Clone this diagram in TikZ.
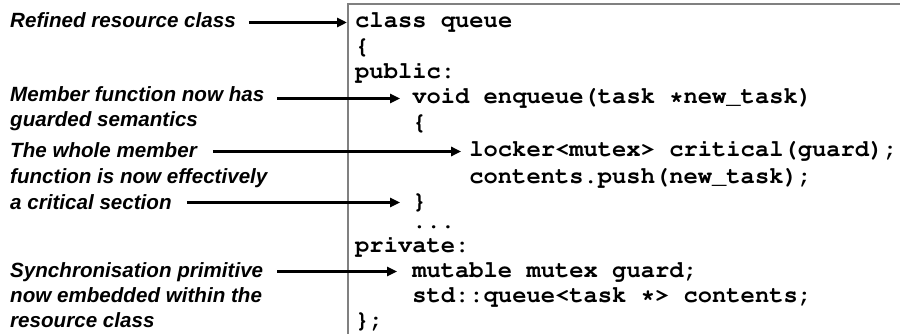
\documentclass[tikz,border=0pt]{standalone}
\usepackage[T1]{fontenc}
\usepackage{fontspec}
\setmainfont{Liberation Sans}
\usetikzlibrary{arrows.meta}

% bold Courier for the listing
\newcommand\listingfont{\fontencoding{T1}\fontfamily{pcr}\fontseries{b}\fontshape{n}%
  \fontsize{23.8}{25}\selectfont}

\begin{document}
\begin{tikzpicture}[x=1pt,y=-1pt,
  note/.style={anchor=base west, inner sep=0pt,
    font=\fontsize{20.6}{25}\selectfont\bfseries\itshape},
  code/.style={anchor=base west, inner sep=0pt, font=\listingfont},
  pointer/.style={line width=3pt, -{Triangle[length=10pt,width=9pt]}},
  frame/.style={draw={rgb,255:red,128;green,128;blue,128}, line width=1.6pt}]
\useasboundingbox (0,0) rectangle (900,334);

% open frame round the listing
\draw[frame] (348,334) -- (348,4) -- (900,4);

% listing, one node per line (columns 0, 4 and 8)
\node[code] (c0)  at (355,28)    {class queue};
\node[code] (c1)  at (355,54)    {\{};
\node[code] (c2)  at (355,79)    {public:};
\node[code] (c3)  at (412.1,104) {void enqueue(task *new\_task)};
\node[code] (c4)  at (412.1,130) {\{};
\node[code] (c5)  at (469.2,157) {locker<mutex> critical(guard);};
\node[code] (c6)  at (469.2,183) {contents.push(new\_task);};
\node[code] (c7)  at (412.1,208) {\}};
\node[code] (c8)  at (412.1,228) {...};
\node[code] (c9)  at (355,252)   {private:};
\node[code] (c10) at (412.1,277) {mutable mutex guard;};
\node[code] (c11) at (412.1,302) {std::queue<task *> contents;};
\node[code] (c12) at (355,327)   {\};};

% annotations
\node[note] (n0) at (10,28)  {Refined resource class};
\node[note] (n1) at (10,102) {Member function now has};
\node[note] (n2) at (10,127) {guarded semantics};
\node[note] (n3) at (10,158) {The whole member};
\node[note] (n4) at (10,184) {function is now effectively};
\node[note] (n5) at (10,209) {a critical section};
\node[note] (n6) at (10,277) {Synchronisation primitive};
\node[note] (n7) at (10,302) {now embedded within the};
\node[note] (n8) at (10,327) {resource class};

% arrow heights: middle of the lower-case letters of the target line
\coordinate (t0)  at ([yshift=5.5pt]c0.base west);
\coordinate (t3)  at ([yshift=5.5pt]c3.base west);
\coordinate (t5)  at ([yshift=5.5pt]c5.base west);
\coordinate (t7)  at ([yshift=5.5pt]c7.base west);
\coordinate (t10) at ([yshift=5.5pt]c10.base west);

% pointers from the notes into the listing
\draw[pointer] ([xshift=13pt]n0.east |- t0)  -- ([xshift=-8pt]t0);
\draw[pointer] ([xshift=13pt]n1.east |- t3)  -- ([xshift=-12pt]t3);
\draw[pointer] ([xshift=16pt]n3.east |- t5)  -- ([xshift=-8pt]t5);
\draw[pointer] ([xshift=15pt]n5.east |- t7)  -- ([xshift=-12pt]t7);
\draw[pointer] ([xshift=14pt]n6.east |- t10) -- ([xshift=-15pt]t10);
\end{tikzpicture}
\end{document}
